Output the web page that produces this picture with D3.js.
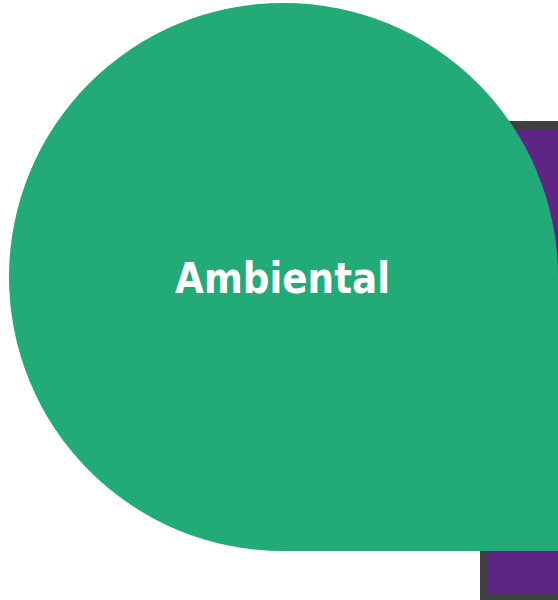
<!DOCTYPE html>
<html>
<head>
<meta charset="utf-8">
<script src="https://cdn.jsdelivr.net/npm/d3@7"></script>
<style>
  html, body { margin: 0; padding: 0; background: #ffffff; overflow: hidden; }
  svg { display: block; }
</style>
</head>
<body>
<svg id="chart" width="558" height="600"></svg>
<script>
// Data
const categories = ["Ambiental", "Social"];
const petalValues = [1, 1];          // relative petal sizes
const labels = ["Ambiental", ""];
const colors = ["#22aa77", "#5e2585"];

const svg = d3.select("#chart");

// Scale: unit grid -> pixels
const x = d3.scaleLinear().domain([0, 1]).range([9, 558]);
const y = d3.scaleLinear().domain([0, 1]).range([3, 551]);

// Back petal (purple rectangle, partly hidden)
const bx = d3.scaleLinear().domain([0, 1]).range([484, 1032]);
const by = d3.scaleLinear().domain([0, 1]).range([125, 597]);
svg.append("rect")
  .attr("x", bx(0))
  .attr("y", by(0))
  .attr("width", bx(petalValues[1]) - bx(0))
  .attr("height", by(petalValues[1]) - by(0))
  .attr("fill", colors[1])
  .attr("stroke", "#404040")
  .attr("stroke-width", 8);

// Front petal: square with three rounded corners (bottom-right square)
const x0 = x(0), x1 = x(petalValues[0]), y0 = y(0), y1 = y(petalValues[0]);
const r = (y1 - y0) / 2;
const p = d3.path();
p.moveTo(x0 + r, y0);
p.arcTo(x1, y0, x1, y0 + r, r);
p.lineTo(x1, y1);
p.lineTo(x0 + r, y1);
p.arcTo(x0, y1, x0, y1 - r, r);
p.lineTo(x0, y0 + r);
p.arcTo(x0, y0, x0 + r, y0, r);
p.closePath();
svg.append("path")
  .attr("d", p.toString())
  .attr("fill", colors[0]);

svg.append("text")
  .attr("x", 282.5)
  .attr("y", 293)
  .attr("text-anchor", "middle")
  .attr("font-family", "DejaVu Sans, Verdana, sans-serif")
  .attr("font-weight", "bold")
  .attr("font-size", 42)
  .attr("textLength", 215)
  .attr("lengthAdjust", "spacingAndGlyphs")
  .attr("fill", "#ffffff")
  .text(labels[0]);
</script>
</body>
</html>
